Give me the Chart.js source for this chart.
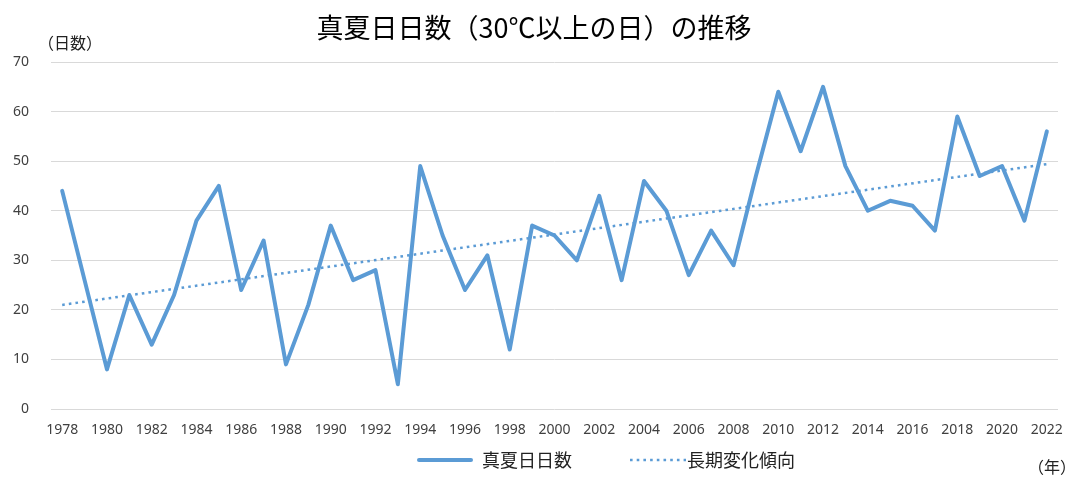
<!DOCTYPE html>
<html><head><meta charset="utf-8">
<script src="https://cdn.jsdelivr.net/npm/chart.js@4.4.0/dist/chart.umd.min.js"></script>
<style>html,body{margin:0;padding:0;background:#fff;}</style>
</head><body>
<canvas id="c" width="1070" height="477"></canvas>
<script>
const years = ['1978','1979','1980','1981','1982','1983','1984','1985','1986','1987','1988','1989','1990','1991','1992','1993','1994','1995','1996','1997','1998','1999','2000','2001','2002','2003','2004','2005','2006','2007','2008','2009','2010','2011','2012','2013','2014','2015','2016','2017','2018','2019','2020','2021','2022'];
const hotDays = [44,26,8,23,13,23,38,45,24,34,9,21,37,26,28,5,49,35,24,31,12,37,35,30,43,26,46,40,27,36,29,47,64,52,65,49,40,42,41,36,59,47,49,38,56];
const trendYears = ['1978','2022'];
const trendValues = [21.0, 49.4];
const yTickValues = [0,10,20,30,40,50,60,70];
const titleText = '真夏日日数（30℃以上の日）の推移';
const seriesNames = ['真夏日日数','長期変化傾向'];
const yUnitText = '（日数）';
const xUnitText = '（年）';

const BLUE = '#5B9BD5';
const CJK = '"Noto Sans CJK JP", "Noto Sans", sans-serif';
const NUM = '"Noto Sans", "Open Sans", sans-serif';

const extras = {
  id: 'extras',
  afterDraw(chart) {
    const ctx = chart.ctx;
    ctx.save();
    ctx.fillStyle = '#222';
    ctx.textBaseline = 'middle';
    ctx.textAlign = 'left';
    ctx.font = '16px ' + CJK;
    ctx.fillText(yUnitText, 38, 43);
    ctx.fillText(xUnitText, 1028, 467);
    // legend
    const ds = chart.data.datasets;
    const main = ds.find(d => d.label === seriesNames[0]);
    const trend = ds.find(d => d.label === seriesNames[1]);
    ctx.lineCap = 'round';
    ctx.strokeStyle = main.borderColor;
    ctx.lineWidth = main.borderWidth;
    ctx.beginPath(); ctx.moveTo(419, 460); ctx.lineTo(471, 460); ctx.stroke();
    ctx.lineCap = 'butt';
    ctx.strokeStyle = trend.borderColor;
    ctx.lineWidth = trend.borderWidth;
    ctx.setLineDash(trend.borderDash);
    ctx.beginPath(); ctx.moveTo(630, 460); ctx.lineTo(686, 460); ctx.stroke();
    ctx.setLineDash([]);
    ctx.font = '18px ' + CJK;
    ctx.fillText(main.label, 482, 460);
    ctx.fillText(trend.label, 687, 460);
    ctx.restore();
  }
};

new Chart(document.getElementById('c'), {
  type: 'line',
  data: {
    labels: years,
    datasets: [
      {
        label: seriesNames[1],
        data: trendYears.map((y, i) => ({x: y, y: trendValues[i]})),
        borderColor: BLUE,
        borderWidth: 2.5,
        borderDash: [2.6, 4.1],
        pointRadius: 0,
        fill: false,
        order: 0
      },
      {
        label: seriesNames[0],
        data: hotDays,
        borderColor: BLUE,
        borderWidth: 4,
        borderJoinStyle: 'round',
        borderCapStyle: 'round',
        pointRadius: 0,
        tension: 0,
        fill: false,
        order: 1
      }
    ]
  },
  options: {
    responsive: false,
    animation: false,
    devicePixelRatio: 1,
    layout: { padding: { left: 10, right: 12, top: 0, bottom: 38 } },
    plugins: {
      legend: { display: false },
      tooltip: { enabled: false },
      title: {
        display: true,
        text: titleText,
        color: '#000',
        font: { family: CJK, size: 27, weight: 'normal' },
        padding: { top: 12, bottom: 17.6 }
      }
    },
    scales: {
      x: {
        type: 'category',
        offset: true,
        grid: { display: false, drawTicks: false },
        border: { display: false },
        ticks: {
          autoSkip: false,
          maxRotation: 0,
          padding: 13,
          color: '#404040',
          font: { family: NUM, size: 14 },
          callback: (v, i) => (i % 2 === 0 ? years[i] : '')
        },
        afterFit(s) { s.height = 30; s.paddingLeft = 0; s.paddingRight = 0; }
      },
      y: {
        min: 0,
        max: 70,
        afterBuildTicks(s) { s.ticks = yTickValues.map(v => ({value: v})); },
        grid: { color: '#D9D9D9', lineWidth: 1, drawTicks: false },
        border: { display: false },
        ticks: {
          padding: 22,
          color: '#404040',
          font: { family: NUM, size: 14 }
        },
        afterFit(s) { s.width = 41; s.paddingTop = 0; s.paddingBottom = 0; }
      }
    }
  },
  plugins: [extras]
});
</script>
</body></html>
